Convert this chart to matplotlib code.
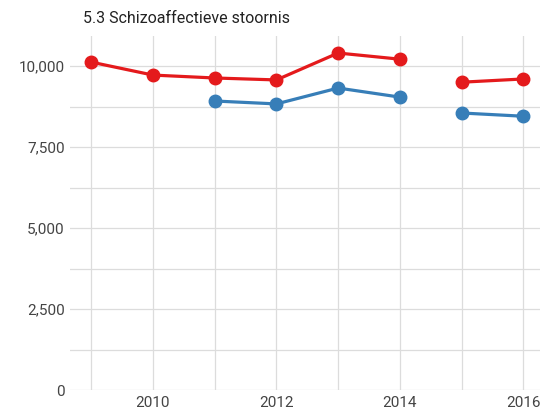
import numpy as np
import matplotlib
matplotlib.use("Agg")
import matplotlib.pyplot as plt
from matplotlib.ticker import MultipleLocator, FuncFormatter

years = [2009, 2010, 2011, 2012, 2013, 2014, 2015, 2016]
# NaN marks the break in the series (2009-2014 vs 2015-2016)
red_a = [10120, 9720, 9630, 9570, 10400, 10210]
red_b = [9500, 9600]
blue_a = [8920, 8830, 9320, 9040]
blue_b = [8550, 8450]

plt.rcParams['font.family'] = ['Roboto', 'DejaVu Sans']

fig = plt.figure(figsize=(5.4, 4.12), dpi=100)
ax = fig.add_axes([0.13, 0.053, 0.87, 0.86])

red = '#e41a1c'
blue = '#377eb8'
kw = dict(linewidth=2.3, marker='o', markersize=9, solid_capstyle='round')
ax.plot(years[:6], red_a, color=red, **kw)
ax.plot(years[6:], red_b, color=red, **kw)
ax.plot(years[2:6], blue_a, color=blue, **kw)
ax.plot(years[6:], blue_b, color=blue, **kw)

ax.set_xlim(2008.66, 2016.27)
ax.set_ylim(0, 10930)
ax.xaxis.set_major_locator(MultipleLocator(2))
ax.xaxis.set_minor_locator(MultipleLocator(1))
ax.yaxis.set_major_locator(MultipleLocator(2500))
ax.yaxis.set_minor_locator(MultipleLocator(1250))
ax.yaxis.set_major_formatter(FuncFormatter(lambda v, p: f"{int(v):,}"))

ax.grid(True, which='both', color='#dcdcdc', linewidth=0.9)
ax.set_axisbelow(True)
for s in ax.spines.values():
    s.set_visible(False)
ax.tick_params(which='both', length=0, labelsize=11, colors='#444444', pad=4)

fig.text(0.154, 0.955, "5.3 Schizoaffectieve stoornis", fontsize=11.5,
         color='#222222', ha='left', va='center')

fig.savefig("out.png", dpi=100)
